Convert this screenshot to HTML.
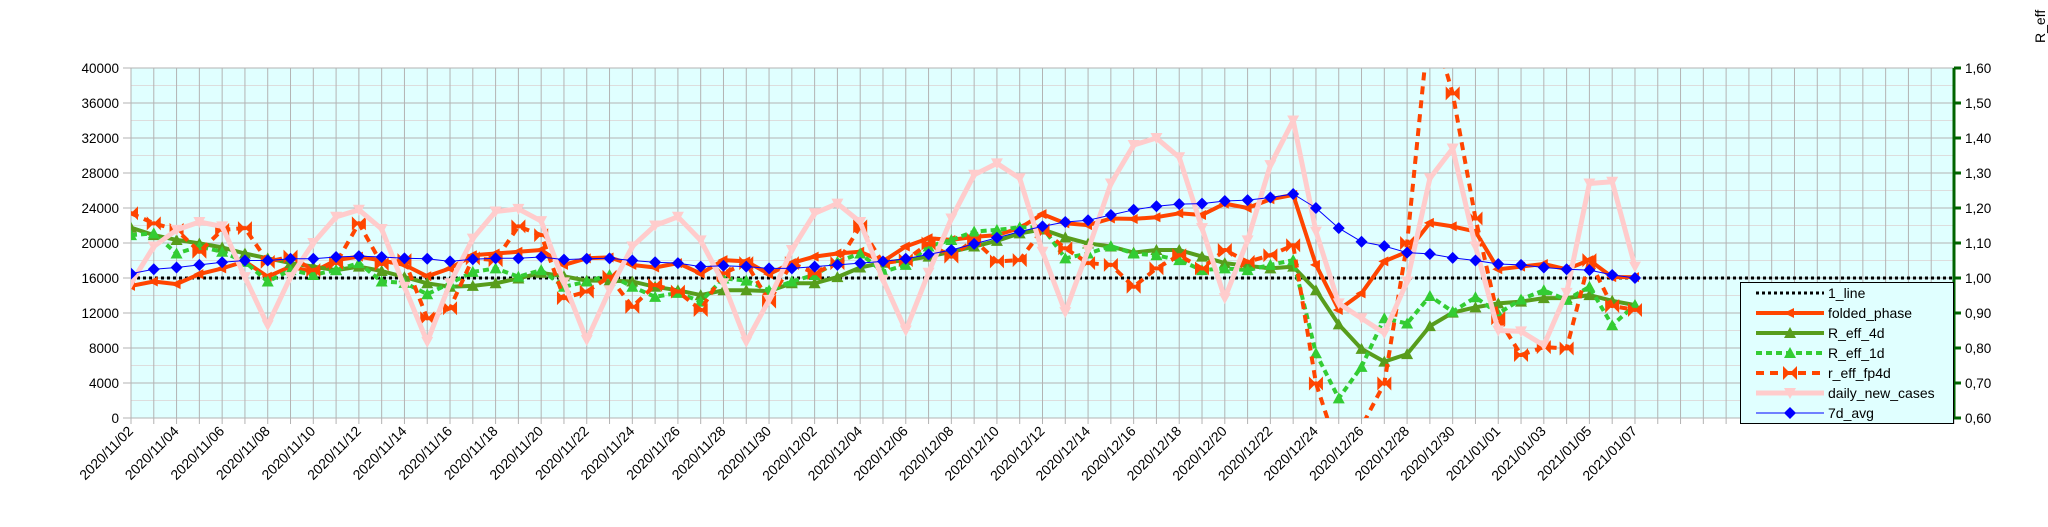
<!DOCTYPE html>
<html><head><meta charset="utf-8">
<style>
html,body{margin:0;padding:0;background:#fff;}
svg{display:block;font-family:"Liberation Sans",Arial,sans-serif;}
</style></head>
<body>
<svg id="c" width="2048" height="527" viewBox="0 0 2048 527" xmlns="http://www.w3.org/2000/svg"></svg>
<script>
const L=131,R=1954,T=68,B=418,W=(R-L)/80;
const X=i=>L+i*W, Y=v=>B-v*(B-T)/40000;
let s='';
s+=`<defs><clipPath id="cp"><rect x="${L}" y="${T}" width="${R-L}" height="${B-T}"/></clipPath></defs>`;
s+=`<rect x="${L}" y="${T}" width="${R-L}" height="${B-T}" fill="#e0ffff"/>`;
for(let k=0;k<10;k++){const y=Y(k*4000+2000);s+=`<line x1="${L}" x2="${R}" y1="${y}" y2="${y}" stroke="#dddddd" stroke-width="1"/>`;}
for(let i=0;i<=80;i++){const x=X(i);s+=`<line x1="${x}" x2="${x}" y1="${T}" y2="${B+6}" stroke="#b3b3b3" stroke-width="1"/>`;}
for(let k=0;k<=10;k++){const y=Y(k*4000);s+=`<line x1="${L-8}" x2="${R}" y1="${y}" y2="${y}" stroke="#b3b3b3" stroke-width="1"/>`;
 s+=`<text x="${L-12}" y="${y+5}" font-size="13.5" text-anchor="end" fill="#000">${k*4000}</text>`;
 s+=`<line x1="${R}" x2="${R+7}" y1="${y}" y2="${y}" stroke="#006400" stroke-width="3"/>`;
 s+=`<text x="${R+11}" y="${y+5}" font-size="13.5" fill="#000">${(0.6+k*0.1).toFixed(2).replace('.',',')}</text>`;}
s+=`<line x1="${R}" x2="${R}" y1="${T}" y2="${B}" stroke="#006400" stroke-width="3"/>`;
// x labels
const start=new Date(Date.UTC(2020,10,2));
for(let i=0;i<=66;i+=2){const d=new Date(start.getTime()+i*864e5);
 const t=d.getUTCFullYear()+'/'+String(d.getUTCMonth()+1).padStart(2,'0')+'/'+String(d.getUTCDate()).padStart(2,'0');
 const x=X(i)+3,y=B+14;
 s+=`<text transform="translate(${x},${y}) rotate(-45)" font-size="14" text-anchor="end" fill="#000">${t}</text>`;}
s+=`<text transform="translate(2045,43) rotate(-90)" font-size="14" fill="#000">R_eff</text>`;
const dn=[15400,19600,21500,22400,21900,16100,10600,16100,20000,23000,23800,21600,15000,8700,15400,20500,23600,23900,22500,15500,8900,14600,19600,22000,23000,20300,15400,8700,13500,19200,23400,24500,22400,15800,10000,16600,22800,27800,29100,27400,19000,12100,19200,26800,31200,32000,29800,21700,13700,20300,28900,34000,21300,13100,11400,9700,15600,27400,30800,19600,10000,9900,8300,14300,26800,27000,17300];
const av=[16500,17000,17200,17500,17800,18000,18000,18200,18200,18400,18500,18400,18250,18200,17900,18150,18250,18250,18400,18100,18200,18250,18000,17800,17700,17300,17400,17300,17100,17100,17300,17500,17700,17900,18200,18700,19200,19900,20600,21300,21900,22400,22600,23200,23800,24200,24450,24500,24800,24900,25200,25600,24000,21700,20150,19650,18900,18750,18300,18000,17600,17500,17200,17000,16900,16350,16000];
const fp=[15100,15600,15300,16450,17100,17900,16150,17300,16700,18050,18450,18000,17500,16200,17100,18600,18800,19000,19200,17500,18250,18350,17500,17200,17700,16500,18050,17900,16450,17700,18450,18800,19000,17900,19600,20550,20350,20700,20900,21700,23300,22250,22050,22800,22750,22950,23400,23200,24500,24000,25000,25500,17500,12350,14250,17900,19000,22300,21900,21300,17000,17300,17600,17000,18050,16100,16100];
const r4=[21750,20900,20350,19950,19500,18800,18250,17700,17300,16900,17300,16800,16100,15400,15000,15100,15400,15950,16600,16200,15700,15700,15600,15000,14600,14050,14600,14600,14500,15400,15400,16100,17200,17750,18050,18450,19000,19600,20250,21100,21550,20650,19950,19600,18900,19200,19200,18450,17700,17400,17100,17300,14600,10700,7900,6450,7300,10500,12050,12650,13100,13300,13700,13700,14050,13400,12900];
const r1=[20900,21100,18800,19600,19000,17850,15600,16900,16350,16900,17700,15600,15450,14150,15400,16700,17100,16150,16900,15000,15600,16350,15000,13850,14300,13300,15950,15700,14600,15600,16350,17850,18800,16700,17500,19600,20350,21300,21500,21800,21800,18250,18800,19650,18800,18600,18050,16900,17100,16900,17500,18050,7400,2250,5850,11400,10800,13950,12150,13800,11950,13550,14600,13500,15000,10600,12900];
const rf=[23400,22250,21500,19000,21500,21700,17850,18450,16900,17700,22250,17600,18050,11400,12550,18250,18050,21900,20900,13700,14450,16150,12700,15200,14450,12350,16550,17700,13300,17700,16550,17700,21900,17700,18050,19950,18450,20350,17900,18050,21500,19400,17700,17500,15000,17100,18600,17100,19200,17850,18600,19750,3950,-4000,-1000,3950,20000,46000,37100,22800,11400,7200,8100,7950,18050,12800,12350];
const pts=a=>a.map((v,i)=>X(i).toFixed(1)+','+Y(v).toFixed(1)).join(' ');
function mk(type,x,y,c){
 if(type==='tl')return `<polygon points="${x-6},${y} ${x+4},${y-5} ${x+4},${y+5}" fill="${c}"/>`;
 if(type==='tu')return `<polygon points="${x},${y-6} ${x-6},${y+5} ${x+6},${y+5}" fill="${c}"/>`;
 if(type==='td')return `<polygon points="${x},${y+6} ${x-6},${y-5} ${x+6},${y-5}" fill="${c}"/>`;
 if(type==='bt')return `<polygon points="${x-7},${y-7} ${x},${y} ${x-7},${y+7}" fill="${c}"/><polygon points="${x+7},${y-7} ${x},${y} ${x+7},${y+7}" fill="${c}"/><rect x="${x-1.5}" y="${y-2}" width="3" height="4" fill="${c}"/>`;
 if(type==='dm')return `<polygon points="${x},${y-6} ${x+6},${y} ${x},${y+6} ${x-6},${y}" fill="${c}"/>`;
 return '';}
function series(a,c,w,dash,m){
 let g=`<polyline points="${pts(a)}" fill="none" stroke="${c}" stroke-width="${w}" stroke-linejoin="round" ${dash?`stroke-dasharray="${dash}"`:''}/>`;
 a.forEach((v,i)=>{g+=mk(m,X(i),Y(v),c);});return g;}
let g='<g clip-path="url(#cp)">';
g+=`<line x1="${L}" x2="${R}" y1="${Y(16000)}" y2="${Y(16000)}" stroke="#000" stroke-width="3" stroke-dasharray="3,3"/>`;
g+=series(fp,'#ff4500',4,null,'tl');
g+=series(r4,'#579d1c',4,null,'tu');
g+=series(r1,'#33cc33',4,'6,4','tu');
g+=series(rf,'#ff4500',4,'8,6','bt');
g+=series(dn,'#ffcccc',5,null,'td');
g+=series(av,'#0000ff',1,null,'dm');
g+='</g>';
s+=g;
// legend
s+=`<rect x="1740.5" y="282.5" width="213" height="141" fill="#e0ffff" stroke="#000" stroke-width="1"/>`;
const leg=[['1_line','#000',3,'3,3',null],['folded_phase','#ff4500',4,null,'tl'],['R_eff_4d','#579d1c',4,null,'tu'],['R_eff_1d','#33cc33',4,'6,4','tu'],['r_eff_fp4d','#ff4500',4,'8,6','bt'],['daily_new_cases','#ffcccc',5,null,'td'],['7d_avg','#0000ff',1,null,'dm']];
leg.forEach((e,k)=>{const y=293+k*20;
 s+=`<line x1="1756" x2="1824" y1="${y}" y2="${y}" stroke="${e[1]}" stroke-width="${e[2]}" ${e[3]?`stroke-dasharray="${e[3]}"`:''}/>`;
 if(e[4])s+=mk(e[4],1790,y,e[1]);
 s+=`<text x="1828" y="${y+5}" font-size="14" fill="#000">${e[0]}</text>`;});
document.getElementById('c').innerHTML=s;
</script>
</body></html>
